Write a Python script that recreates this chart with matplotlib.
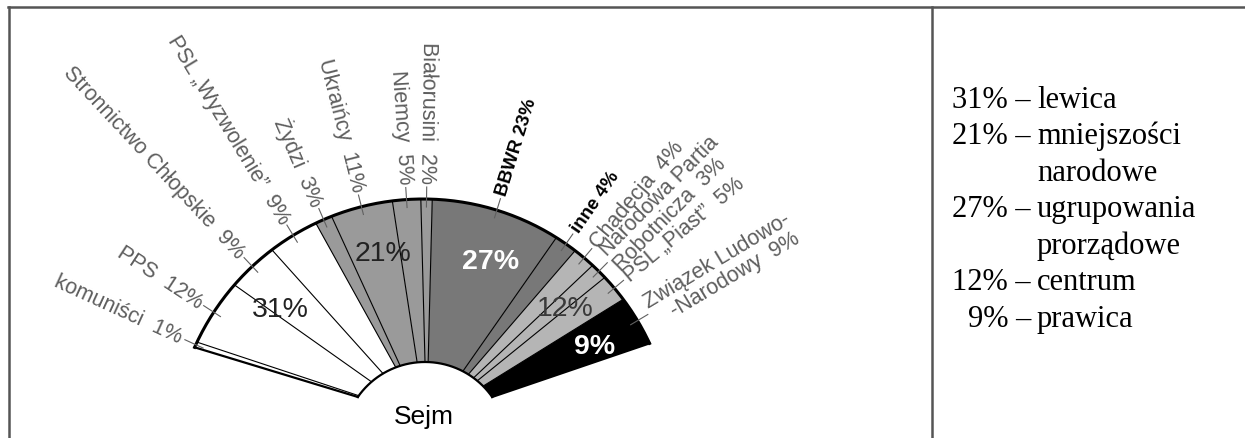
import numpy as np
import matplotlib.pyplot as plt

# Sejm 1930 - seats by party (%), left to right
parties = ['komuniści', 'PPS', 'Stronnictwo Chłopskie', 'PSL „Wyzwolenie”',
           'Żydzi', 'Ukraińcy', 'Niemcy', 'Białorusini',
           'BBWR', 'inne',
           'Chadecja', 'Narodowa Partia\nRobotnicza', 'PSL „Piast”',
           'Związek Ludowo-\n   -Narodowy']
shares = [1, 12, 9, 9, 3, 11, 5, 2, 23, 4, 4, 3, 5, 9]
group_of = [0, 0, 0, 0, 1, 1, 1, 1, 2, 2, 3, 3, 3, 4]

group_shares = [31, 21, 27, 12, 9]
group_names = ['lewica', 'mniejszości\nnarodowe', 'ugrupowania\nprorządowe',
               'centrum', 'prawica']
group_colors = ['#ffffff', '#9a9a9a', '#787878', '#b5b5b5', '#000000']
group_text = ['#222222', '#222222', '#ffffff', '#3a3a3a', '#ffffff']
group_bold = [False, False, True, False, True]

# fan geometry (pixel coordinates)
CX, CY, R = 423, 450, 250
ICX, ICY, RI = 425, 445, 82
A0, ASPAN = 156, 131
IA0, IASPAN = 145, 110


def outer(f, r=R):
    t = np.radians(A0 - ASPAN * f)
    return CX + r * np.cos(t), CY - r * np.sin(t)


def inner(f):
    t = np.radians(IA0 - IASPAN * f)
    return ICX + RI * np.cos(t), ICY - RI * np.sin(t)


fig = plt.figure(figsize=(12.45, 4.39), dpi=100)
ax = fig.add_axes([0, 0, 1, 1])
ax.set_xlim(0, 1245)
ax.set_ylim(439, 0)
ax.axis('off')

plt.rcParams['font.family'] = ['Liberation Sans', 'DejaVu Sans']

cum = np.concatenate([[0], np.cumsum(shares)]) / 100.0

# segments
for i, s in enumerate(shares):
    f = np.linspace(cum[i], cum[i + 1], 30)
    ox, oy = outer(f)
    ix, iy = inner(f[::-1])
    ax.fill(np.concatenate([ox, ix]), np.concatenate([oy, iy]),
            color=group_colors[group_of[i]], lw=0)

# dividing lines
for k, f in enumerate(cum):
    ox, oy = outer(f)
    ix, iy = inner(f)
    lw = 1.6 if k in (0, len(cum) - 1) else 0.8
    ax.plot([ox, ix], [oy, iy], color='black', lw=lw)

# arcs
ff = np.linspace(0, 1, 200)
ax.plot(*outer(ff), color='black', lw=2.2)
ax.plot(*inner(ff), color='black', lw=1.6)

# party labels with ticks
for i, name in enumerate(parties):
    fm = (cum[i] + cum[i + 1]) / 2
    ang = A0 - ASPAN * fm
    x1, y1 = outer(fm, 242)
    x2, y2 = outer(fm, 262)
    ax.plot([x1, x2], [y1, y2], color='#606060', lw=0.8)
    tx, ty = outer(fm, 266)
    bold = name in ('BBWR', 'inne')
    if bold:
        label = name + ' ' + str(shares[i]) + '%'
    else:
        label = name + '  ' + str(shares[i]) + '%'
    col = 'black' if bold else '#5e5e5e'
    size = 13.5 if bold else 15.5
    if ang > 88:
        ax.text(tx, ty, label, rotation=ang - 180, rotation_mode='anchor',
                ha='right', va='center', color=col, fontsize=size,
                fontweight='bold' if bold else 'normal')
    else:
        ax.text(tx, ty, label, rotation=ang, rotation_mode='anchor',
                ha='left', va='center', color=col, fontsize=size,
                fontweight='bold' if bold else 'normal', linespacing=1.0)

# group labels inside the fan
gcum = np.concatenate([[0], np.cumsum(group_shares)]) / 100.0
for g, v in enumerate(group_shares):
    fm = (gcum[g] + gcum[g + 1]) / 2
    tx, ty = outer(fm, 200)
    ax.text(tx, ty, f'{v}%', ha='center', va='center', fontsize=20.5,
            color=group_text[g],
            fontweight='bold' if group_bold[g] else 'normal')

ax.text(424, 424, 'Sejm', ha='center', va='baseline', fontsize=19,
        color='black')

# frame
fc = '#555555'
ax.plot([8, 1245], [8, 8], color=fc, lw=1.8)
ax.plot([9, 9], [8, 439], color=fc, lw=1.8)
ax.plot([932, 932], [8, 439], color=fc, lw=1.8)

# legend on the right
y = 108
for v, nm in zip(group_shares, group_names):
    parts = nm.split('\n')
    ax.text(1031, y, f'{v}% –', ha='right', va='baseline', fontsize=22,
            family='Liberation Serif', color='black')
    for p in parts:
        ax.text(1037, y, p, ha='left', va='baseline', fontsize=22,
                family='Liberation Serif', color='black')
        y += 36.5

fig.savefig('out.png', dpi=100)
